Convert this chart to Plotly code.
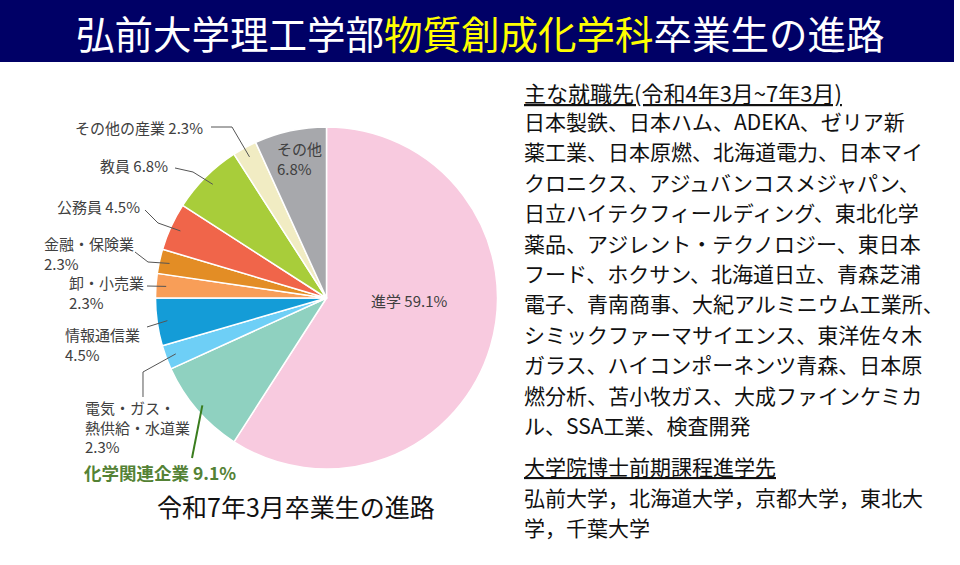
import math
import plotly.graph_objects as go

# slices, clockwise from 12 o'clock
labels = ['進学', '化学関連企業', '電気・ガス・熱供給・水道業', '情報通信業', '卸・小売業',
          '金融・保険業', '公務員', '教員', 'その他の産業', 'その他']
values = [59.1, 9.1, 2.3, 4.5, 2.3, 2.3, 4.5, 6.8, 2.3, 6.8]
colors = ['#F8CADF', '#8FD1C0', '#6ECFF6', '#149CD7', '#F89E58', '#E38D25',
          '#F0654A', '#A8CD3A', '#F1ECC3', '#A7A8AC']

jobs_header = '主な就職先(令和4年3月~7年3月)'
jobs_lines = ['日本製鉄、日本ハム、ADEKA、ゼリア新',
              '薬工業、日本原燃、北海道電力、日本マイ',
              'クロニクス、アジュバンコスメジャパン、',
              '日立ハイテクフィールディング、東北化学',
              '薬品、アジレント・テクノロジー、東日本',
              'フード、ホクサン、北海道日立、青森芝浦',
              '電子、青南商事、大紀アルミニウム工業所、',
              'シミックファーマサイエンス、東洋佐々木',
              'ガラス、ハイコンポーネンツ青森、日本原',
              '燃分析、苫小牧ガス、大成ファインケミカ',
              'ル、SSA工業、検査開発']
grad_header = '大学院博士前期課程進学先'
grad_lines = ['弘前大学，北海道大学，京都大学，東北大', '学，千葉大学']

W, H = 960, 565
CX, CY, R = 326.5, 298, 171
FONT = 'Noto Sans CJK JP'
GREY = '#404040'


def px(x, y):
    return x / W, 1 - y / H


fig = go.Figure(go.Pie(
    labels=labels, values=values, sort=False, direction='clockwise', rotation=0,
    marker=dict(colors=colors, line=dict(color='white', width=1.5)),
    textinfo='none', hoverinfo='skip', showlegend=False,
    domain=dict(x=[(CX - R) / W, (CX + R) / W], y=[1 - (CY + R) / H, 1 - (CY - R) / H]),
))

# mid angle of each slice, for leader lines
mids = []
acc = 0
for v in values:
    mids.append((acc + v / 2) / sum(values) * 360)
    acc += v


def anchor(i, f=0.94):
    a = math.radians(mids[i])
    return CX + f * R * math.sin(a), CY - f * R * math.cos(a)


annotations = []


def label(text, x, y, size=15, color=GREY, xanchor='left', bold=False):
    ax, ay = px(x, y)
    annotations.append(dict(text='<b>%s</b>' % text if bold else text, x=ax, y=ay,
                            xref='paper', yref='paper', xanchor=xanchor, yanchor='middle',
                            showarrow=False, align='left',
                            font=dict(family=FONT, size=size, color=color)))


def pct(i):
    return '%.1f%%' % values[i]


shapes = []


def leader(pts, i, color='#555555', width=1, f=0.94):
    pts = pts + [anchor(i, f)]
    path = 'M ' + ' L '.join('%f %f' % px(x, y) for x, y in pts)
    shapes.append(dict(type='path', path=path, xref='paper', yref='paper',
                       line=dict(color=color, width=width)))


# title bar
shapes.append(dict(type='rect', xref='paper', yref='paper', x0=0, x1=954 / W,
                   y0=1 - 62 / H, y1=1, fillcolor='#000066', line=dict(width=0)))
label('弘前大学理工学部<span style="color:#FFFF00">物質創成化学科</span>卒業生の進路',
      480, 32, size=38.5, color='white', xanchor='center')

# pie labels
label('%s %s' % (labels[0], pct(0)), 409, 300, xanchor='center')
label('%s<br>%s' % (labels[9], pct(9)), 275, 158)
label('%s %s' % (labels[8], pct(8)), 73, 127)
leader([(211, 127), (232, 127)], 8)
label('%s %s' % (labels[7], pct(7)), 98, 165)
leader([(175, 168), (193, 172)], 7)
label('%s %s' % (labels[6], pct(6)), 55, 206)
leader([(145, 210), (158, 223)], 6)
label('金融・保険業<br>%s' % pct(5), 42, 253)
leader([(135, 252), (148, 262)], 5)
label('卸・小売業<br>%s' % pct(4), 67, 292)
leader([(147, 286)], 4)
label('情報通信業<br>%s' % pct(3), 63, 344)
leader([(147, 327)], 3)
label('電気・ガス・<br>熱供給・水道業<br>%s' % pct(2), 83, 427)
leader([(143, 397), (143, 372)], 2)
label('%s %s' % (labels[1], pct(1)), 82, 473, size=17.5, color='#548235', bold=True)
leader([(192, 458)], 1, color='#3A7D1E', width=2, f=0.96)
label('令和7年3月卒業生の進路', 296, 506, size=25, color='#111111', xanchor='center')

# right hand text
label('<u>%s</u>' % jobs_header, 522, 92, size=22, color='#111111')
for k, line in enumerate(jobs_lines):
    label(line, 522, 121 + k * 30.4, size=21, color='#111111')
label('<u>%s</u>' % grad_header, 522, 466, size=21, color='#111111')
for k, line in enumerate(grad_lines):
    label(line, 522, 497 + k * 30.4, size=21, color='#111111')

fig.update_layout(width=W, height=H, margin=dict(l=0, r=0, t=0, b=0),
                  paper_bgcolor='white', plot_bgcolor='white',
                  shapes=shapes, annotations=annotations)
# drop the browser's default body margin so the figure sits at the page corner
fig.write_html('out.html', config=dict(displayModeBar=False),
               post_script="document.body.style.margin='0';")
